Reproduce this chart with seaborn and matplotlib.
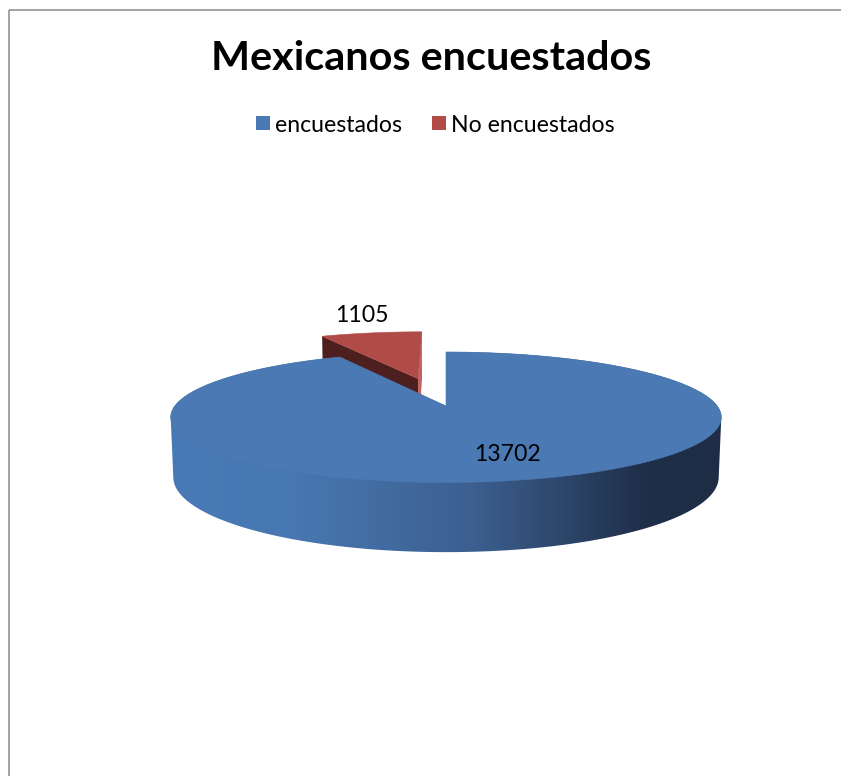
import numpy as np
import matplotlib
matplotlib.use("Agg")
import matplotlib.pyplot as plt
import seaborn as sns
from matplotlib.patches import Polygon
from matplotlib.colors import LinearSegmentedColormap
from matplotlib.lines import Line2D

# --- data -------------------------------------------------------------
categories = ["encuestados", "No encuestados"]
counts = [13702, 1105]
explode = [0.0, 0.48]
title = "Mexicanos encuestados"

# --- style ------------------------------------------------------------
top_colors = ["#4a79b3", "#b04b47"]
cut_colors = {"start": ["#2e4a72", "#4e1f1f"], "end": ["#2e4a72", "#c4635f"]}
wall_cmap = LinearSegmentedColormap.from_list(
    "wall",
    [(0.00, "#4a7ab5"), (0.22, "#4878b2"), (0.55, "#3c5f8f"),
     (0.85, "#1f2f49"), (1.00, "#1e2d45")],
)

sns.set_theme(style="white")
plt.rcParams["font.family"] = ["Lato", "DejaVu Sans"]

W, H = 841, 776
fig = plt.figure(figsize=(W / 100, H / 100), dpi=100)
ax = fig.add_axes([0, 0, 1, 1])
ax.set_xlim(0, W)
ax.set_ylim(H, 0)
ax.axis("off")

# --- simple perspective camera for the 3-D pie ------------------------
CX, CY = 446.0, 406.0
F = 1535.0
D = 5.66
ELEV = np.deg2rad(13.5)
DEPTH = 0.224
ce, se = np.cos(ELEV), np.sin(ELEV)
cam = np.array([0.0, D * se, -D * ce])


def project(x, z, y=0.0):
    x = np.asarray(x, float)
    z = np.asarray(z, float)
    yc = y * ce + z * se
    zc = D + z * ce - y * se
    return np.column_stack([CX + F * x / zc, CY - F * yc / zc])


# slice angles: start at 12 o'clock, go clockwise
vals = np.asarray(counts, float)
spans = vals / vals.sum() * 2 * np.pi
starts = np.pi / 2 - np.concatenate([[0], np.cumsum(spans)[:-1]])
ends = starts - spans
mids = (starts + ends) / 2

order = np.argsort(-(np.sin(mids) * (1 + np.asarray(explode))))  # back first
for i in order:
    s_ang, e_ang, m = starts[i], ends[i], mids[i]
    ox, oz = explode[i] * np.cos(m), explode[i] * np.sin(m)
    t = np.linspace(e_ang, s_ang, 600)
    px, pz = ox + np.cos(t), oz + np.sin(t)
    apex = project([ox], [oz], 0.0)

    # radial cut faces
    for key, a, nrm in (("start", s_ang, (-np.sin(s_ang), np.cos(s_ang))),
                        ("end", e_ang, (np.sin(e_ang), -np.cos(e_ang)))):
        facing = nrm[0] * (cam[0] - ox) + nrm[1] * (cam[2] - oz)
        if facing <= 1e-6:
            continue
        rx, rz = ox + np.cos(a), oz + np.sin(a)
        quad = np.vstack([project([ox, rx], [oz, rz], 0.0),
                          project([rx, ox], [rz, oz], -DEPTH)])
        ax.add_patch(Polygon(quad, closed=True, fc=cut_colors[key][i],
                             ec="none", lw=0, zorder=2))

    # outer wall: the part whose normal faces the camera, shaded by a
    # left-to-right gradient clipped to the slice outline
    facing = np.cos(t) * (cam[0] - px) + np.sin(t) * (cam[2] - pz)
    idx = np.flatnonzero(facing > 0)
    if idx.size:
        a0, a1 = idx[0], idx[-1] + 1
        outline = np.vstack([
            apex,
            project(px[:a0 + 1], pz[:a0 + 1], 0.0),
            project(px[a0:a1], pz[a0:a1], -DEPTH),
            project(px[a1 - 1:], pz[a1 - 1:], 0.0),
        ])
        wall = Polygon(outline, closed=True, fc="none", ec="none", lw=0,
                       zorder=2)
        ax.add_patch(wall)
        x0, x1 = CX - F / D * 1.04, CX + F / D * 1.04
        grad = np.linspace(0, 1, 512)[None, :]
        im = ax.imshow(grad, cmap=wall_cmap, aspect="auto",
                       extent=[x0, x1, CY + 200, CY - 100],
                       interpolation="bilinear", zorder=2)
        im.set_clip_path(wall)

    # top face
    top = np.vstack([apex, project(px, pz, 0.0)])
    ax.add_patch(Polygon(top, closed=True, fc=top_colors[i],
                         ec=top_colors[i], lw=0.4, zorder=2))

ax.set_xlim(0, W)
ax.set_ylim(H, 0)

# --- text -------------------------------------------------------------
renderer = fig.canvas.get_renderer()


def fit_size(s, width_px, **kw):
    probe = ax.text(0, 0, s, fontsize=20, **kw)
    w = probe.get_window_extent(renderer).width
    probe.remove()
    return 20 * width_px / w


title_fs = fit_size(title, 440, fontweight="bold")
ax.text(431, 70, title, ha="center", va="baseline", fontsize=title_fs,
        fontweight="bold", color="black", zorder=5)

fs = fit_size(categories[1], 163)
fs_px = fs * 100 / 72
sq = 14  # legend key size, px
handles = [Line2D([], [], ls="", marker="s", markersize=sq * 0.72,
                  markeredgewidth=0, color=c) for c in top_colors]
ax.legend(handles, categories, ncol=2, loc="center",
          bbox_to_anchor=(435.5, 125), bbox_transform=ax.transData,
          frameon=False, fontsize=fs, borderpad=0, borderaxespad=0,
          handlelength=sq / fs_px, handletextpad=5 / fs_px,
          columnspacing=30 / fs_px, labelcolor="black")

label_pos = [(507, 461), (362, 322)]
for i, (lx, ly) in enumerate(label_pos):
    ax.text(lx, ly, f"{counts[i]}", ha="center", va="baseline",
            fontsize=fs, color="black", zorder=5)

# chart-area border (top and left edges)
ax.plot([9.5, W], [9.5, 9.5], color="#8a8a8a", lw=1.1, zorder=6,
        solid_capstyle="butt")
ax.plot([9.5, 9.5], [9.5, H], color="#8a8a8a", lw=1.1, zorder=6,
        solid_capstyle="butt")

fig.savefig("out.png", dpi=100)
